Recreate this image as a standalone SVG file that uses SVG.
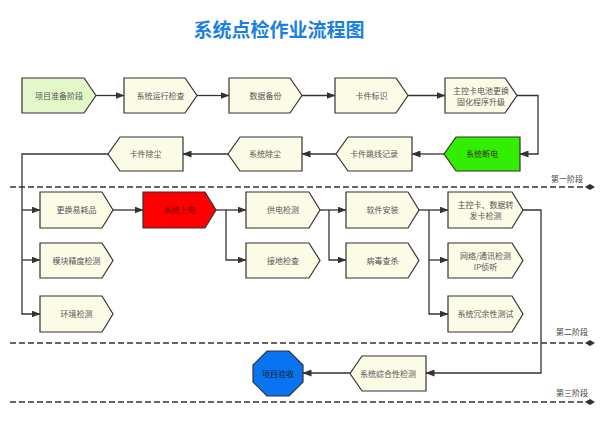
<svg xmlns="http://www.w3.org/2000/svg" width="600" height="422" viewBox="0 0 600 422">
<defs>
<marker id="arr" markerWidth="9" markerHeight="7" refX="8.5" refY="3.5" orient="auto" markerUnits="userSpaceOnUse"><path d="M0,0 L9,3.5 L0,7 Z" fill="#333"/></marker>
<marker id="dia" markerWidth="10" markerHeight="6" refX="5" refY="3" orient="auto" markerUnits="userSpaceOnUse"><path d="M0,3 L5,0 L10,3 L5,6 Z" fill="#333"/></marker>
</defs>
<style>
.n{fill:#fbfbe6;stroke:#333;stroke-width:1.2}
.t{font-family:"Noto Sans CJK SC","Liberation Sans",sans-serif;font-size:8px;fill:#555;text-anchor:middle}
.c{fill:none;stroke:#333;stroke-width:1.3}
.d{fill:none;stroke:#333;stroke-width:1.5;stroke-dasharray:6 3}
.s{font-family:"Noto Sans CJK SC","Liberation Sans",sans-serif;font-size:8px;fill:#444;text-anchor:middle}
</style>
<rect width="600" height="422" fill="#fff"/>
<text x="279" y="37" font-family="'Noto Sans CJK SC','Liberation Sans',sans-serif" font-size="19" font-weight="bold" fill="#1a7fe0" text-anchor="middle">系统点检作业流程图</text>

<g id="phases">
<path class="d" d="M10,187 H590" marker-end="url(#dia)"/>
<path class="d" d="M10,343 H590" marker-end="url(#dia)"/>
<path class="d" d="M10,402 H590" marker-end="url(#dia)"/>
<text class="s" x="567" y="182">第一阶段</text>
<text class="s" x="572" y="335">第二阶段</text>
<text class="s" x="572" y="396">第三阶段</text>
</g>

<g id="connectors">
<path class="c" d="M96,95.5 H124" marker-end="url(#arr)"/>
<path class="c" d="M197,95.5 H229" marker-end="url(#arr)"/>
<path class="c" d="M302,95.5 H335" marker-end="url(#arr)"/>
<path class="c" d="M408,95.5 H445" marker-end="url(#arr)"/>
<path class="c" d="M517,95.5 H538 V154 H520" marker-end="url(#arr)"/>
<path class="c" d="M444,154 H412" marker-end="url(#arr)"/>
<path class="c" d="M336,154 H302" marker-end="url(#arr)"/>
<path class="c" d="M228,154 H183" marker-end="url(#arr)"/>
<path class="c" d="M108,154 H22 V314 H40" marker-end="url(#arr)"/>
<path class="c" d="M22,210 H40" marker-end="url(#arr)"/>
<path class="c" d="M22,260 H40" marker-end="url(#arr)"/>
<path class="c" d="M113,210 H143" marker-end="url(#arr)"/>
<path class="c" d="M216,210 H246" marker-end="url(#arr)"/>
<path class="c" d="M226,210 V260 H246" marker-end="url(#arr)"/>
<path class="c" d="M320,210 H346" marker-end="url(#arr)"/>
<path class="c" d="M329,210 V260 H346" marker-end="url(#arr)"/>
<path class="c" d="M419,210 H448" marker-end="url(#arr)"/>
<path class="c" d="M429,210 V314 H448" marker-end="url(#arr)"/>
<path class="c" d="M429,260 H448" marker-end="url(#arr)"/>
<path class="c" d="M523,210 H541 V373 H426" marker-end="url(#arr)"/>
<path class="c" d="M350,373 H303" marker-end="url(#arr)"/>
</g>

<g id="n1"><path class="n" style="fill:#e4f7c8" d="M22,78 H84 L96,95.5 L84,113 H22 Z"/><text class="t" x="59" y="98.5">项目准备阶段</text></g>
<g id="n2"><path class="n" d="M124,78 H185 L197,95.5 L185,113 H124 Z"/><text class="t" x="160.5" y="98.5">系统运行检查</text></g>
<g id="n3"><path class="n" d="M229,78 H290 L302,95.5 L290,113 H229 Z"/><text class="t" x="265.5" y="98.5">数据备份</text></g>
<g id="n4"><path class="n" d="M335,78 H396 L408,95.5 L396,113 H335 Z"/><text class="t" x="371.5" y="98.5">卡件标识</text></g>
<g id="n5"><path class="n" d="M445,78 H505 L517,95.5 L505,113 H445 Z"/><text class="t" x="481" y="94">主控卡电池更换</text><text class="t" x="481" y="105">固化程序升级</text></g>

<g id="n6"><path class="n" style="fill:#33ee00" d="M456,137 H520 V171 H456 L444,154 Z"/><text class="t" x="482" y="157" style="fill:#333">系统断电</text></g>
<g id="n7"><path class="n" d="M348,137 H412 V171 H348 L336,154 Z"/><text class="t" x="374" y="157">卡件跳线记录</text></g>
<g id="n8"><path class="n" d="M240,137 H302 V171 H240 L228,154 Z"/><text class="t" x="265" y="157">系统除尘</text></g>
<g id="n9"><path class="n" d="M120,137 H183 V171 H120 L108,154 Z"/><text class="t" x="145.5" y="157">卡件除尘</text></g>

<g id="n10"><path class="n" d="M40,192 H102 L113,210 L102,228 H40 Z"/><text class="t" x="76.5" y="213">更换易耗品</text></g>
<g id="n11"><path class="n" style="fill:#ff0000" d="M143,192 H205 L216,210 L205,228 H143 Z"/><text class="t" x="179.5" y="213" style="fill:#700">系统上电</text></g>
<g id="n12"><path class="n" d="M246,192 H309 L320,210 L309,228 H246 Z"/><text class="t" x="283" y="213">供电检测</text></g>
<g id="n13"><path class="n" d="M346,192 H408 L419,210 L408,228 H346 Z"/><text class="t" x="382.5" y="213">软件安装</text></g>
<g id="n14"><path class="n" d="M448,192 H512 L523,210 L512,228 H448 Z"/><text class="t" x="485.5" y="208">主控卡、数据转</text><text class="t" x="485.5" y="219">发卡检测</text></g>

<g id="n15"><path class="n" d="M40,243 H102 L113,260.5 L102,278 H40 Z"/><text class="t" x="76.5" y="263.5">模块精度检测</text></g>
<g id="n16"><path class="n" d="M246,243 H309 L320,260.5 L309,278 H246 Z"/><text class="t" x="283" y="263.5">接地检查</text></g>
<g id="n17"><path class="n" d="M346,243 H408 L419,260.5 L408,278 H346 Z"/><text class="t" x="382.5" y="263.5">病毒查杀</text></g>
<g id="n18"><path class="n" d="M448,243 H512 L523,260.5 L512,278 H448 Z"/><text class="t" x="485.5" y="258.5">网络/通讯检测</text><text class="t" x="485.5" y="269.5">IP侦听</text></g>

<g id="n19"><path class="n" d="M40,296 H102 L113,314 L102,332 H40 Z"/><text class="t" x="76.5" y="317">环境检测</text></g>
<g id="n20"><path class="n" d="M448,296 H512 L523,314 L512,332 H448 Z"/><text class="t" x="485.5" y="317">系统冗余性测试</text></g>

<g id="n21"><path class="n" d="M362,356 H426 V391 H362 L350,373.5 Z"/><text class="t" x="388" y="376.5">系统综合性检测</text></g>
<g id="n22"><path d="M267,351 H289 L303,365 V382 L289,396 H267 L253,382 V365 Z" fill="#0a74f0" stroke="#333" stroke-width="1.2"/><text class="t" x="278" y="376.5" style="fill:#123">项目验收</text></g>
</svg>
